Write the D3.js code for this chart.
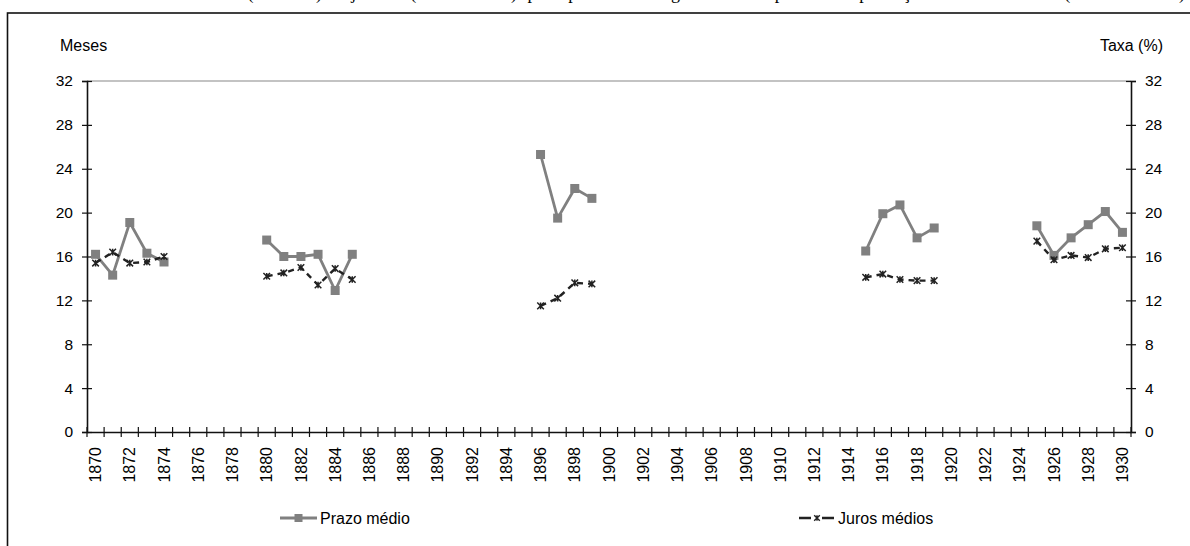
<!DOCTYPE html>
<html><head><meta charset="utf-8">
<script src="https://cdn.jsdelivr.net/npm/d3@7"></script>
<style>
html,body{margin:0;padding:0;background:#fff;}
svg{display:block;}
text{font-family:"Liberation Sans",Arial,sans-serif;fill:#000;}
</style></head>
<body>
<svg id="chart" width="1190" height="546"></svg>
<script>
// ---- data ----
const years = d3.range(1870, 1931);
const yTicks = [0, 4, 8, 12, 16, 20, 24, 28, 32];
const xTickLabels = d3.range(1870, 1931, 2);
const prazoYears = [1870,1871,1872,1873,1874, 1880,1881,1882,1883,1884,1885, 1896,1897,1898,1899, 1915,1916,1917,1918,1919, 1925,1926,1927,1928,1929,1930];
const prazoValues = [16.2,14.3,19.1,16.3,15.5, 17.5,16.0,16.0,16.2,12.9,16.2, 25.3,19.5,22.2,21.3, 16.5,19.9,20.7,17.7,18.6, 18.8,16.1,17.7,18.9,20.1,18.2];
const jurosYears = prazoYears;
const jurosValues = [15.4,16.4,15.4,15.5,16.0, 14.2,14.5,15.0,13.4,14.9,13.9, 11.5,12.2,13.6,13.5, 14.1,14.4,13.9,13.8,13.8, 17.4,15.7,16.1,15.9,16.7,16.8];
const seriesNames = ["Prazo médio", "Juros médios"];
const titleText = "Gráfico – Prazo médio (meses) e juros (% ao ano) por prazo e segundo o tipo das operações de crédito (1870-1930)";

function toSeries(ys, vs){
  const m = new Map(ys.map((y,i)=>[y, vs[i]]));
  return years.map(y => ({year:y, value: m.has(y) ? m.get(y) : null}));
}
const prazo = toSeries(prazoYears, prazoValues);
const juros = toSeries(jurosYears, jurosValues);

const svg = d3.select("#chart");
const L = 87, R = 1131, T = 81, B = 432;

// title (cut off at top, as in the reference)
svg.append("text").attr("x", 12).attr("y", -1.5).attr("text-anchor","start")
  .attr("textLength", 1173).attr("lengthAdjust","spacing")
  .style("font-family","'Liberation Serif','Times New Roman',serif").style("font-size","18px")
  .text(titleText);

// frame
svg.append("rect").attr("x",7.5).attr("y",13).attr("width",1300).attr("height",700)
  .attr("fill","none").attr("stroke","#111").attr("stroke-width",1.6);

const x = d3.scaleBand().domain(years).range([L, R]).padding(0);
const y = d3.scaleLinear().domain([0, 32]).range([B, T]);
const bw = x.bandwidth();

// plot area top border
svg.append("line").attr("x1",L).attr("x2",R).attr("y1",y(32)).attr("y2",y(32))
  .attr("stroke","#888").attr("stroke-width",1.2);

// left axis
const gl = svg.append("g").attr("transform",`translate(${L},0)`)
  .call(d3.axisLeft(y).tickValues(yTicks).tickSize(5).tickPadding(9));
gl.select(".domain").attr("stroke","#111").attr("stroke-width",1.6);
gl.selectAll(".tick line").attr("x1",5).attr("x2",-5).attr("stroke","#111").attr("stroke-width",1.2);
gl.selectAll(".tick text").style("font-size","15.5px").style("font-family","'Liberation Sans',Arial,sans-serif");

// right axis
const gr = svg.append("g").attr("transform",`translate(${R},0)`)
  .call(d3.axisRight(y).tickValues(yTicks).tickSize(5).tickPadding(9));
gr.select(".domain").attr("stroke","#111").attr("stroke-width",1.6);
gr.selectAll(".tick line").attr("x1",-5).attr("x2",5).attr("stroke","#111").attr("stroke-width",1.2);
gr.selectAll(".tick text").style("font-size","15.5px").style("font-family","'Liberation Sans',Arial,sans-serif");

// x axis
const gx = svg.append("g").attr("transform",`translate(0,${B})`)
  .call(d3.axisBottom(x).tickValues(xTickLabels).tickSize(0).tickPadding(0));
gx.select(".domain").attr("stroke","#111").attr("stroke-width",1.6);
gx.selectAll(".tick text")
  .style("font-size","16px").style("font-family","'Liberation Sans',Arial,sans-serif")
  .attr("text-anchor","end").attr("dy","0.35em")
  .attr("transform","translate(0,15) rotate(-90)").attr("x",0).attr("y",0);
// tick marks at category boundaries
const bounds = years.map(yr => x(yr)).concat([x(years[years.length-1]) + bw]);
gx.selectAll("line.b").data(bounds).join("line").attr("class","b")
  .attr("x1",d=>d).attr("x2",d=>d).attr("y1",-5).attr("y2",5)
  .attr("stroke","#111").attr("stroke-width",1.2);

// axis titles
svg.append("text").attr("x",60).attr("y",51).style("font-size","16px").text("Meses");
svg.append("text").attr("x",1163).attr("y",51).attr("text-anchor","end").style("font-size","16px").text("Taxa (%)");

const cx = d => x(d.year) + bw/2;
const line = d3.line().defined(d => d.value !== null).x(cx).y(d => y(d.value));

// Prazo médio
svg.append("path").datum(prazo).attr("d", line).attr("fill","none")
  .attr("stroke","#808080").attr("stroke-width",2.8);
svg.selectAll("rect.pm").data(prazo.filter(d=>d.value!==null)).join("rect").attr("class","pm")
  .attr("x", d=>cx(d)-4.5).attr("y", d=>y(d.value)-4.5).attr("width",9).attr("height",9)
  .attr("fill","#808080");

// Juros médios
svg.append("path").datum(juros).attr("d", line).attr("fill","none")
  .attr("stroke","#222").attr("stroke-width",2.4).attr("stroke-dasharray","6,5");
const star = (px,py,s) => `M${px-s},${py-s}L${px+s},${py+s}M${px-s},${py+s}L${px+s},${py-s}M${px},${py-s}L${px},${py+s}`;
svg.selectAll("path.jm").data(juros.filter(d=>d.value!==null)).join("path").attr("class","jm")
  .attr("d", d=>star(cx(d), y(d.value), 3.3))
  .attr("stroke","#222").attr("stroke-width",1.5).attr("fill","none");

// legend
const lg1 = svg.append("g");
lg1.append("line").attr("x1",280).attr("x2",317).attr("y1",518).attr("y2",518)
  .attr("stroke","#808080").attr("stroke-width",2.8);
lg1.append("rect").attr("x",294.5).attr("y",514).attr("width",8).attr("height",8).attr("fill","#808080");
lg1.append("text").attr("x",320).attr("y",524).style("font-size","16px").text(seriesNames[0]);

const lg2 = svg.append("g");
lg2.append("line").attr("x1",799).attr("x2",835).attr("y1",518).attr("y2",518)
  .attr("stroke","#222").attr("stroke-width",2.4).attr("stroke-dasharray","12,11");
lg2.append("path").attr("d", star(817,518,2.8)).attr("stroke","#222").attr("stroke-width",1.4).attr("fill","none");
lg2.append("text").attr("x",838).attr("y",524).style("font-size","16px").text(seriesNames[1]);
</script>
</body></html>
